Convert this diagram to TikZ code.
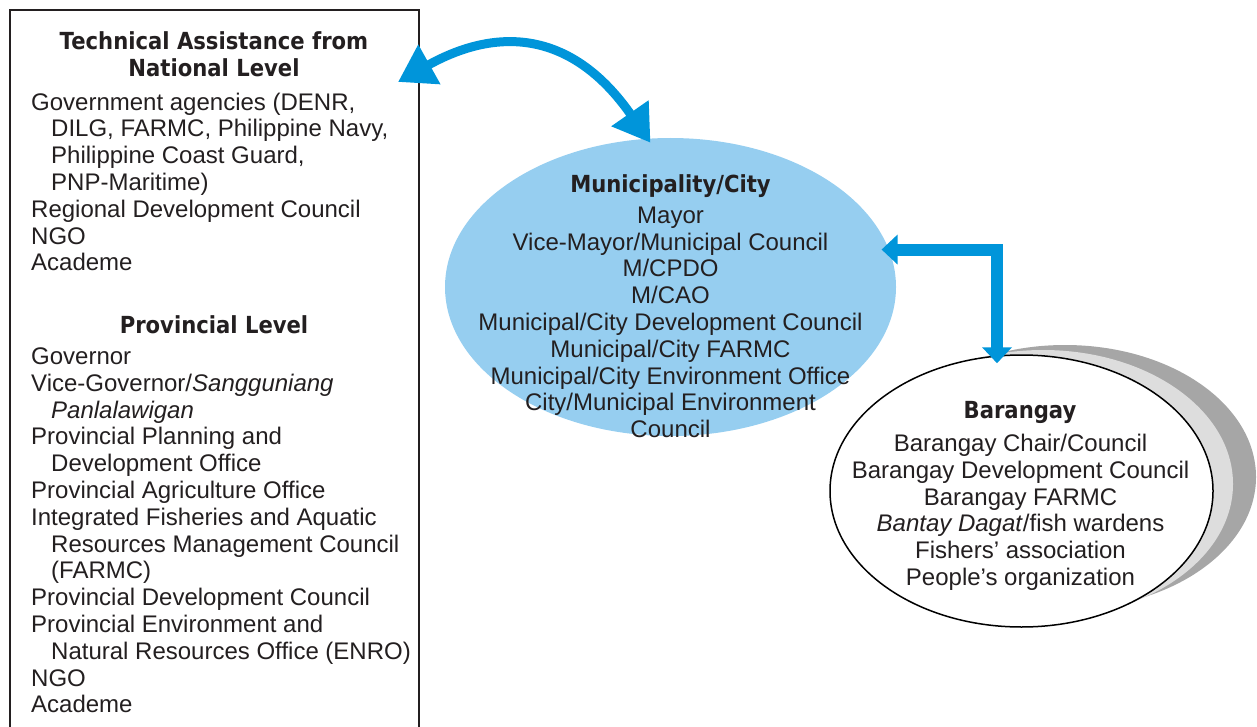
\documentclass[tikz,border=0pt]{standalone}
\usepackage{fontspec}
\setmainfont{Liberation Sans}
\newfontfamily\headfont[FakeStretch=0.9]{DejaVu Sans}
\usetikzlibrary{arrows.meta,shapes.geometric}

\definecolor{muniblue}{RGB}{150,206,240}
\definecolor{arrowblue}{RGB}{0,149,218}
\definecolor{shadelight}{RGB}{221,221,221}
\definecolor{shadedark}{RGB}{166,166,166}
\definecolor{inkgray}{RGB}{35,31,32}

\tikzset{
  body/.style={inner sep=0pt, text=inkgray, font=\fontsize{24}{26.8}\selectfont},
  heading/.style={inner sep=0pt, text=inkgray, align=center, font=\headfont\bfseries\fontsize{23.5}{27}\selectfont},
  bigflow/.style={draw=arrowblue, line width=9pt, {Triangle[length=36pt,width=43pt]}-{Triangle[length=36pt,width=43pt]}},
  elbowflow/.style={draw=arrowblue, line width=12pt, line join=miter, {Triangle[length=16pt,width=29pt]}-{Triangle[length=16pt,width=29pt]}}
}

\begin{document}
\begin{tikzpicture}[x=1pt,y=-1pt]
        \useasboundingbox (0,0) rectangle (1257,727);

        % national and provincial box
        \node[draw=inkgray, line width=1.8pt, anchor=north west, minimum width=409pt, minimum height=740pt, inner sep=0pt] (natBox) at (9,9) {};
        \node[heading, anchor=north] (natTitle) at (214,31) {Technical Assistance from\\National Level};
        \node[body, anchor=north west, align=left] (natList) at (31,92.5) {Government agencies (DENR,\\
            \hspace*{20pt}DILG, FARMC, Philippine Navy,\\
            \hspace*{20pt}Philippine Coast Guard,\\
            \hspace*{20pt}PNP-Maritime)\\
            Regional Development Council\\
            NGO\\
            Academe};
        \node[heading, anchor=north] (provTitle) at (214,315) {Provincial Level};
        \node[body, anchor=north west, align=left] (provList) at (31,347.5) {Governor\\
            Vice-Governor/\textit{Sangguniang}\\
            \hspace*{20pt}\textit{Panlalawigan}\\
            Provincial Planning and\\
            \hspace*{20pt}Development Office\\
            Provincial Agriculture Office\\
            Integrated Fisheries and Aquatic\\
            \hspace*{20pt}Resources Management Council\\
            \hspace*{20pt}(FARMC)\\
            Provincial Development Council\\
            Provincial Environment and\\
            \hspace*{20pt}Natural Resources Office (ENRO)\\
            NGO\\
            Academe};

        % municipality
        \node[ellipse, fill=muniblue, minimum width=451pt, minimum height=298pt] (muni) at (670.5,287) {};
        \node[heading, anchor=north] (muniTitle) at (670.5,174) {Municipality/City};
        \node[body, anchor=north, align=center] (muniList) at (670.5,206.5) {Mayor\\
            Vice-Mayor/Municipal Council\\
            M/CPDO\\
            M/CAO\\
            Municipal/City Development Council\\
            Municipal/City FARMC\\
            Municipal/City Environment Office\\
            City/Municipal Environment\\
            Council};

        % barangay with its shadow
        \fill[shadedark] (1065,477) ellipse [x radius=191, y radius=132];
        \fill[shadelight] (1043,484) ellipse [x radius=190, y radius=134];
        \node[ellipse, draw=black, line width=1.5pt, fill=white, minimum width=383pt, minimum height=272pt] (brgy) at (1021.5,491) {};
        \node[heading, anchor=north] (brgyTitle) at (1020,401) {Barangay};
        \node[body, anchor=north, align=center] (brgyList) at (1020.5,434) {Barangay Chair/Council\\
            Barangay Development Council\\
            Barangay FARMC\\
            \textit{Bantay Dagat}/fish wardens\\
            Fishers' association\\
            People's organization};

        % links
        \coordinate (natTip) at (398,82);
        \draw[bigflow] (natTip) .. controls +(100,-56) and +(-78,-112) .. ([xshift=-20pt,yshift=-5pt]muni.north);
        \draw[elbowflow] ([xshift=-7pt,yshift=-1pt]muni.10) -| ([xshift=-24.5pt,yshift=-9pt]brgy.north);
\end{tikzpicture}
\end{document}
